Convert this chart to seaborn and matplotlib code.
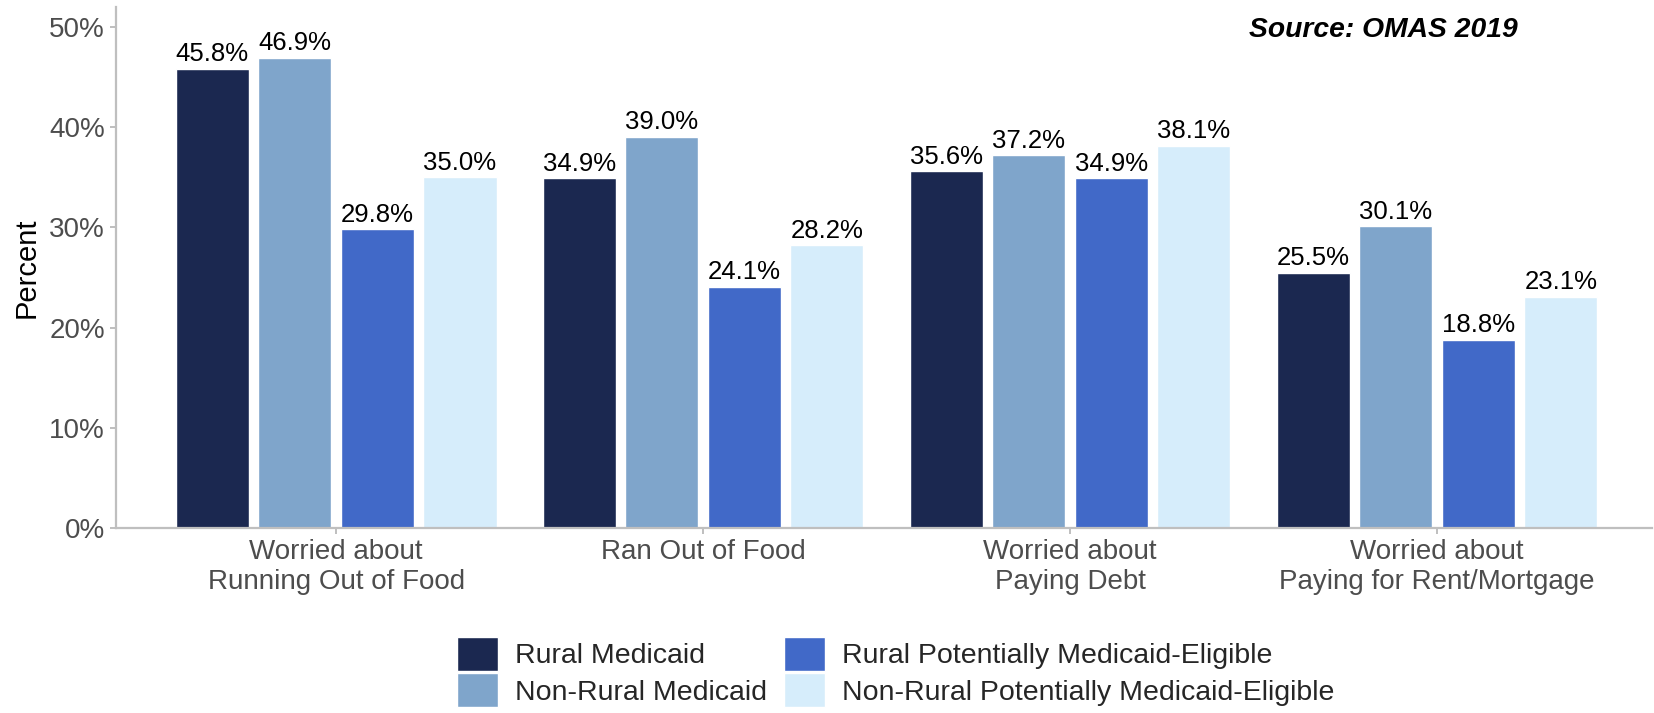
import numpy as np
import pandas as pd
import seaborn as sns
import matplotlib.pyplot as plt
from matplotlib.ticker import PercentFormatter

categories = ['Worried about\nRunning Out of Food', 'Ran Out of Food',
              'Worried about\nPaying Debt', 'Worried about\nPaying for Rent/Mortgage']
groups = ['Rural Medicaid', 'Non-Rural Medicaid',
          'Rural Potentially Medicaid-Eligible', 'Non-Rural Potentially Medicaid-Eligible']
rural_medicaid = [45.8, 34.9, 35.6, 25.5]
nonrural_medicaid = [46.9, 39.0, 37.2, 30.1]
rural_pme = [29.8, 24.1, 34.9, 18.8]
nonrural_pme = [35.0, 28.2, 38.1, 23.1]
colors = ['#1B2850', '#7FA5CB', '#4169C8', '#D6EDFB']

series = [rural_medicaid, nonrural_medicaid, rural_pme, nonrural_pme]
rows = []
for g, vals in zip(groups, series):
    for c, v in zip(categories, vals):
        rows.append({'cat': c, 'group': g, 'val': v})
df = pd.DataFrame(rows)

sns.set_style('white')
plt.rcParams['font.family'] = ['Liberation Sans', 'DejaVu Sans']

W, H = 1654, 713
fig = plt.figure(figsize=(W / 100, H / 100), dpi=100)
ax = fig.add_axes([116 / W, 1 - 528 / H, (1652 - 116) / W, (528 - 7) / H])

sns.barplot(data=df, x='cat', y='val', hue='group', hue_order=groups,
            order=categories, palette=colors, width=0.9, gap=0.115,
            saturation=1, ax=ax, errorbar=None, legend=True)

for cont in ax.containers:
    ax.bar_label(cont, labels=[f'{v:.1f}%' for v in cont.datavalues],
                 padding=2, fontsize=18.5, color='black')

ax.set_xlim(-0.6, 3.586)
ax.set_ylim(0, 52)
ax.set_yticks(np.arange(0, 51, 10))
ax.yaxis.set_major_formatter(PercentFormatter(decimals=0))
ax.set_xlabel('')
ax.set_ylabel('Percent', fontsize=21, color='black', labelpad=6)
ax.tick_params(axis='both', labelsize=20, labelcolor='#4D4D4D', color='#BFBFBF',
               length=4, width=1.4, pad=4, left=True, bottom=True)
sns.despine(ax=ax, top=True, right=True)
for s in ['left', 'bottom']:
    ax.spines[s].set_color('#BFBFBF')
    ax.spines[s].set_linewidth(1.6)

fig.text(1518 / W, 1 - 30 / H, 'Source: OMAS 2019', ha='right', va='center',
         fontsize=20.3, fontweight='bold', fontstyle='italic', color='black')

handles, labels = ax.get_legend_handles_labels()
ax.get_legend().remove()
fig.legend(handles, labels, loc='center', bbox_to_anchor=(896 / W, 1 - 672 / H),
           ncol=2, frameon=False, fontsize=20.5, handlelength=1.44, handleheight=1.44,
           columnspacing=0.6, labelspacing=0.1, handletextpad=0.6, borderpad=0)

fig.savefig('out.png', dpi=100)
